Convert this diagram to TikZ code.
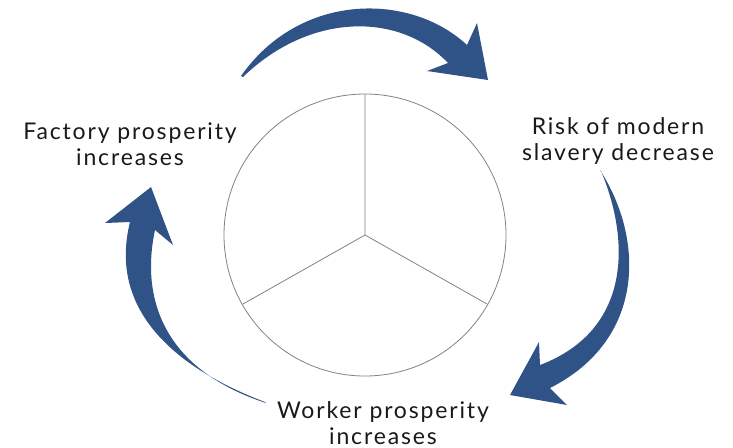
\documentclass[tikz,border=0pt]{standalone}
\usepackage{fontspec}
\setmainfont{Lato}[LetterSpace=8]
\usepackage{tikz}
\usetikzlibrary{positioning}

\definecolor{cycleblue}{RGB}{47,83,135}
\definecolor{wheelgray}{RGB}{130,130,130}

\tikzset{
  stagetext/.style={align=center,font=\fontsize{11.5}{13}\selectfont,text=black!90},
  cyclearrow/.style={fill=cycleblue,draw=none},
  wheel/.style={draw=wheelgray,line width=0.4pt}
}

\begin{document}
\begin{tikzpicture}[x=0.5pt,y=-0.5pt]
	\useasboundingbox (0,0) rectangle (733,447);
	% wheel
	\coordinate (hub) at (365,235);
	\draw[wheel] (hub) circle[radius=141];
	\draw[wheel] (hub) -- ++(0,-141) (hub) -- ++(-122,69) (hub) -- ++(122,69);
	% stage labels
	\node[stagetext] (factory) at (130,144) {Factory prosperity\\increases};
	\node[stagetext] (risk) at (618,141) {Risk of modern\\slavery decrease};
	\node[stagetext] (worker) at (383,423) {Worker prosperity\\increases};
	% top arrow
	\fill[cyclearrow] (241,76) .. controls (300,-8) and (410,-8) .. (467,45)
		-- (477,23) -- (488,80) -- (427,71) -- (448,63)
		.. controls (400,12) and (310,12) .. (243,77) -- cycle;
	% right arrow
	\fill[cyclearrow] (600,170) .. controls (645,240) and (645,340) .. (550,388)
		-- (567,405) -- (510,395) -- (539,342) -- (540,365)
		.. controls (632,330) and (630,240) .. (601,171) -- cycle;
	% left arrow
	\fill[cyclearrow] (265,402) .. controls (175,368) and (108,310) .. (130,222)
		-- (105,223) -- (151,187) -- (173,245) -- (155,230)
		.. controls (140,300) and (165,370) .. (266,403) -- cycle;
\end{tikzpicture}
\end{document}
